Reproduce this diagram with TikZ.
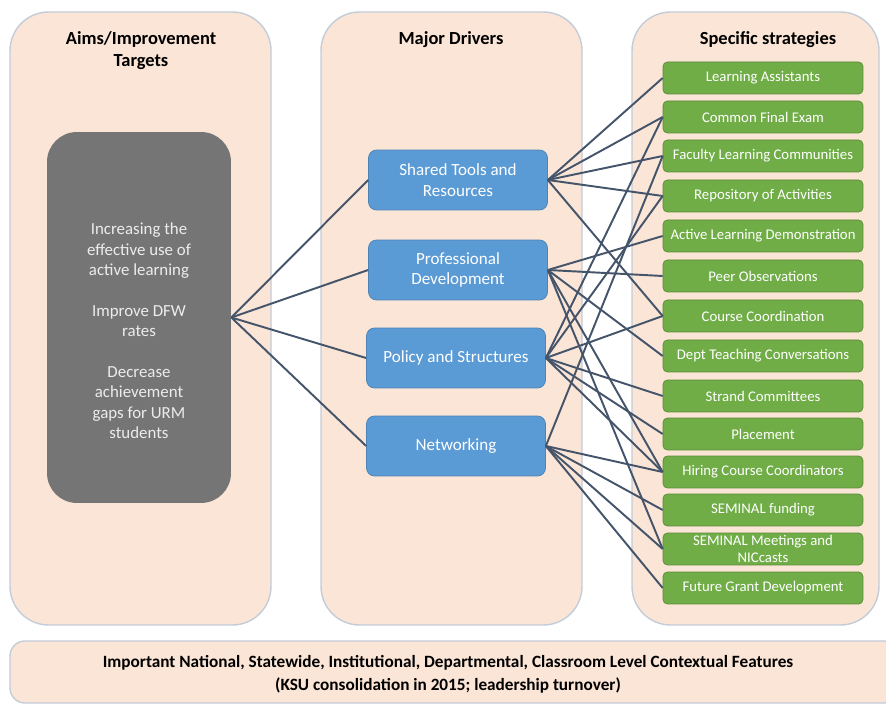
\documentclass[tikz,border=0pt]{standalone}
\usepackage{fontspec}
\setmainfont{Carlito}

\definecolor{panelfill}{HTML}{FBE5D6}
\definecolor{panelline}{HTML}{C3CCD9}
\definecolor{aimgray}{HTML}{757575}
\definecolor{driverblue}{HTML}{5B9BD5}
\definecolor{stratgreen}{HTML}{70AD47}
\definecolor{linkslate}{HTML}{44546A}

\begin{document}
\begin{tikzpicture}[x=0.02cm,y=-0.02cm]

\tikzset{
  panel/.style={
    fill=panelfill,
    draw=panelline,
    line width=0.8pt,
    rounded corners=22pt
  },
  heading/.style={
    font=\fontsize{10.5}{12.5}\selectfont\bfseries,
    align=center
  },
  aimbox/.style={
    fill=aimgray,
    rounded corners=17pt,
    minimum width=3.68cm,
    minimum height=7.42cm
  },
  aimtext/.style={
    text=white!85!gray,
    font=\fontsize{9.6}{11.6}\selectfont,
    align=center
  },
  driverbox/.style={
    fill=driverblue,
    draw=driverblue!85!black,
    line width=0.4pt,
    rounded corners=4.5pt,
    minimum width=3.58cm,
    minimum height=1.2cm,
    text=white,
    font=\fontsize{9.7}{11.6}\selectfont,
    align=center
  },
  stratbox/.style={
    fill=stratgreen,
    draw=stratgreen!80!black,
    line width=0.4pt,
    rounded corners=2.5pt,
    minimum width=4cm,
    minimum height=0.64cm,
    inner sep=1pt,
    text=white,
    font=\fontsize{8.4}{9.6}\selectfont,
    align=center
  },
  link/.style={
    linkslate,
    line width=1.1pt
  }
}

\useasboundingbox (0,0) rectangle (886,705);

% Three columns and the context bar
\draw[panel] (10,12) rectangle (271,625);
\draw[panel] (321,12) rectangle (582,625);
\draw[panel] (632,12) rectangle (879,625);
\draw[panel, rounded corners=8.5pt] (10,641) rectangle (900,703);

% Column headings
\node[heading] (headaims) at (141,51) {Aims/Improvement\\Targets};
\node[heading] (headdrivers) at (451,40) {Major Drivers};
\node[heading] (headstrat) at (768,40) {Specific strategies};

% Aims
\node[aimbox] (aims) at (139,317.5) {};
\node[aimtext] (aimlist) at (139,331)
  {Increasing the\\effective use of\\active learning\\[11.6pt]
   Improve DFW\\rates\\[11.6pt]
   Decrease\\achievement\\gaps for URM\\students};

% Major drivers
\node[driverbox] (tools) at (458,180) {Shared Tools and\\Resources};
\node[driverbox] (profdev) at (458,270) {Professional\\Development};
\node[driverbox] (policy) at (456,358) {Policy and Structures};
\node[driverbox] (network) at (456,446) {Networking};

% Specific strategies
\foreach \y/\name/\txt in {
  78/assist/Learning Assistants,
  117/finalexam/Common Final Exam,
  156/facultylc/Faculty Learning Communities,
  196/repo/Repository of Activities,
  236/demo/Active Learning Demonstration,
  276/peerobs/Peer Observations,
  316/coursecoord/Course Coordination,
  356/deptconv/Dept Teaching Conversations,
  396/strand/Strand Committees,
  434/placement/Placement,
  472/hiring/Hiring Course Coordinators,
  510/funding/SEMINAL funding,
  549/meetings/{SEMINAL Meetings and\\NICcasts},
  588/futuregrant/Future Grant Development}{
  \node[stratbox] (\name) at (763,\y) {\txt};
}

% Aims to drivers
\foreach \d in {tools,profdev,policy,network}{
  \draw[link] (aims.east) -- (\d.west);
}

% Drivers to strategies
\foreach \s in {assist,finalexam,facultylc,repo,coursecoord}{
  \draw[link] (tools.east) -- (\s.west);
}
\foreach \s in {demo,peerobs,deptconv,hiring,meetings}{
  \draw[link] (profdev.east) -- (\s.west);
}
\foreach \s in {finalexam,repo,coursecoord,strand,placement,hiring}{
  \draw[link] (policy.east) -- (\s.west);
}
\foreach \s in {facultylc,hiring,funding,meetings,futuregrant}{
  \draw[link] (network.east) -- (\s.west);
}

% Context bar text
\node[heading, font=\fontsize{9.8}{13}\selectfont\bfseries] (context) at (448,674.5)
  {Important National, Statewide, Institutional, Departmental, Classroom Level Contextual Features\\
   (KSU consolidation in 2015; leadership turnover)};

\end{tikzpicture}
\end{document}
